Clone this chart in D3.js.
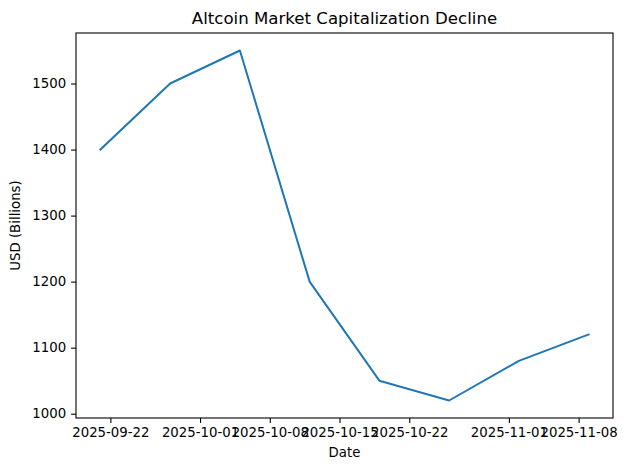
<!DOCTYPE html>
<html><head><meta charset="utf-8">
<script src="https://cdn.jsdelivr.net/npm/d3@7"></script>
<style>body{margin:0;background:#fff}svg{display:block;font-family:"DejaVu Sans",sans-serif}</style>
</head><body>
<script>
const dates = ["2025-09-21","2025-09-28","2025-10-05","2025-10-12","2025-10-19","2025-10-26","2025-11-02","2025-11-09"];
const values = [1400,1500,1550,1200,1050,1020,1080,1120];
const xTicks = ["2025-09-22","2025-10-01","2025-10-08","2025-10-15","2025-10-22","2025-11-01","2025-11-08"];
const yTicks = [1000,1100,1200,1300,1400,1500];

const W=627,H=470;
const m={l:76,r:14,t:33,b:52};
const parse=d3.utcParse("%Y-%m-%d");
const data=dates.map((d,i)=>({d:parse(d),v:values[i]}));
const svg=d3.select("body").append("svg").attr("width",W).attr("height",H);
const ext=d3.extent(data,d=>d.d);
const span=ext[1]-ext[0];
const x=d3.scaleUtc().domain([new Date(+ext[0]-span*0.05),new Date(+ext[1]+span*0.05)]).range([m.l,W-m.r]);
const ye=d3.extent(values),yr=ye[1]-ye[0];
const y=d3.scaleLinear().domain([ye[0]-yr*0.05,ye[1]+yr*0.05]).range([H-m.b,m.t]);

const fs=13.3;
const xa=svg.append("g").attr("transform",`translate(0,${H-m.b})`)
 .call(d3.axisBottom(x).tickValues(xTicks.map(parse)).tickFormat(d3.utcFormat("%Y-%m-%d")).tickSize(4.9).tickPadding(4.9));
const ya=svg.append("g").attr("transform",`translate(${m.l},0)`)
 .call(d3.axisLeft(y).tickValues(yTicks).tickFormat(d3.format("d")).tickSize(4.9).tickPadding(4.9));
[xa,ya].forEach(a=>{a.select(".domain").remove();a.selectAll("text").attr("font-size",fs).attr("font-family","DejaVu Sans").attr("fill","#000");a.selectAll("line").attr("stroke","#000").attr("stroke-width",1.1);});

svg.append("path").datum(data).attr("fill","none").attr("stroke","#1f77b4").attr("stroke-width",2).attr("stroke-linejoin","round").attr("stroke-linecap","square")
 .attr("d",d3.line().x(d=>x(d.d)).y(d=>y(d.v)));
svg.append("rect").attr("x",m.l).attr("y",m.t).attr("width",W-m.l-m.r).attr("height",H-m.t-m.b).attr("fill","none").attr("stroke","#000").attr("stroke-width",1.1);

svg.append("text").attr("x",(m.l+W-m.r)/2).attr("y",24).attr("text-anchor","middle").attr("font-size",16.6).text("Altcoin Market Capitalization Decline");
svg.append("text").attr("x",(m.l+W-m.r)/2).attr("y",457).attr("text-anchor","middle").attr("font-size",fs).text("Date");
svg.append("text").attr("transform",`translate(20,${(m.t+H-m.b)/2}) rotate(-90)`).attr("text-anchor","middle").attr("font-size",fs).text("USD (Billions)");
</script>
</body></html>
